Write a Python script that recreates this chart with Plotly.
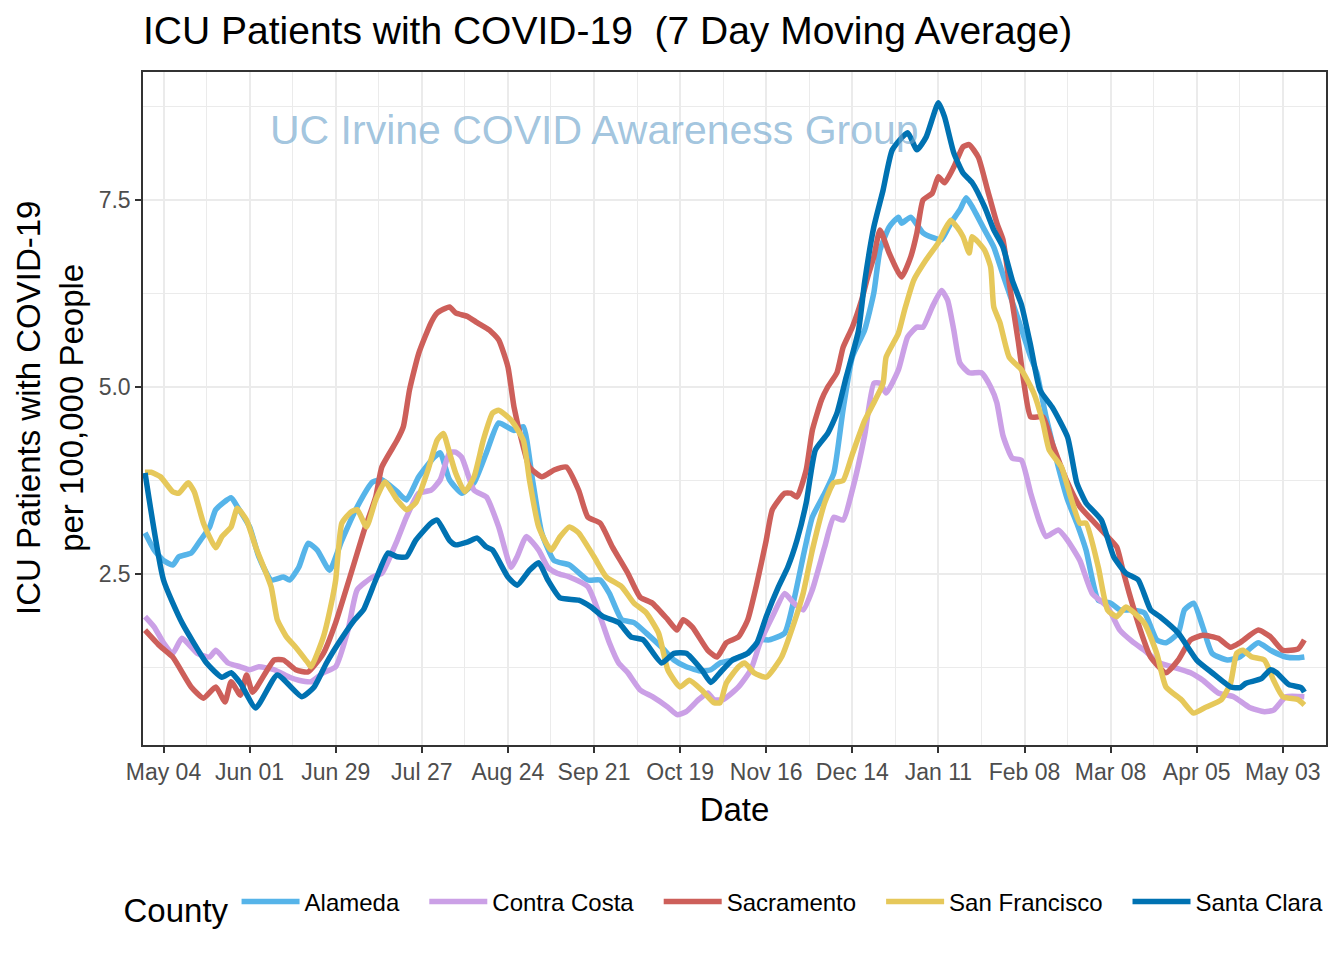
import plotly.graph_objects as go

# ---------------- data ----------------
alameda_dates = ["2020-04-28","2020-05-01","2020-05-04","2020-05-07","2020-05-09","2020-05-13","2020-05-16","2020-05-19","2020-05-21","2020-05-26","2020-05-28","2020-06-01","2020-06-04","2020-06-08","2020-06-12","2020-06-14","2020-06-17","2020-06-20","2020-06-23","2020-06-27","2020-07-01","2020-07-06","2020-07-11","2020-07-14","2020-07-19","2020-07-22","2020-07-26","2020-07-31","2020-08-02","2020-08-05","2020-08-09","2020-08-13","2020-08-17","2020-08-21","2020-08-26","2020-08-29","2020-09-01","2020-09-04","2020-09-08","2020-09-13","2020-09-19","2020-09-23","2020-09-26","2020-09-30","2020-10-04","2020-10-08","2020-10-13","2020-10-17","2020-10-21","2020-10-26","2020-10-29","2020-11-01","2020-11-05","2020-11-10","2020-11-14","2020-11-17","2020-11-22","2020-11-25","2020-11-28","2020-12-01","2020-12-05","2020-12-08","2020-12-11","2020-12-14","2020-12-18","2020-12-21","2020-12-23","2020-12-26","2020-12-29","2020-12-30","2021-01-02","2021-01-06","2021-01-09","2021-01-12","2021-01-15","2021-01-18","2021-01-20","2021-01-22","2021-01-26","2021-01-29","2021-02-01","2021-02-06","2021-02-10","2021-02-12","2021-02-15","2021-02-19","2021-02-22","2021-02-25","2021-02-28","2021-03-04","2021-03-08","2021-03-11","2021-03-15","2021-03-19","2021-03-23","2021-03-26","2021-03-30","2021-04-01","2021-04-04","2021-04-07","2021-04-10","2021-04-15","2021-04-19","2021-04-25","2021-04-29","2021-05-04","2021-05-08","2021-05-10"]
alameda_vals = [3.05,2.82,2.68,2.62,2.73,2.78,2.95,3.13,3.36,3.52,3.40,3.13,2.73,2.42,2.46,2.42,2.59,2.91,2.82,2.55,2.95,3.40,3.73,3.76,3.60,3.49,3.80,4.06,4.12,3.76,3.58,3.72,4.12,4.52,4.42,4.47,3.76,3.05,2.68,2.62,2.42,2.42,2.24,1.89,1.85,1.71,1.52,1.35,1.26,1.20,1.22,1.31,1.35,1.44,1.62,1.62,1.71,2.15,2.73,3.26,3.58,3.85,4.70,5.40,5.76,6.26,6.83,7.14,7.27,7.19,7.27,7.06,7.00,6.97,7.19,7.37,7.53,7.41,7.10,6.87,6.50,5.90,5.40,5.19,4.60,3.93,3.49,3.18,2.82,2.15,2.11,2.02,2.02,1.98,1.62,1.58,1.71,2.02,2.11,1.79,1.44,1.35,1.39,1.58,1.48,1.39,1.38,1.39]

contra_costa_dates = ["2020-04-28","2020-05-01","2020-05-04","2020-05-07","2020-05-10","2020-05-15","2020-05-19","2020-05-21","2020-05-25","2020-05-29","2020-06-01","2020-06-04","2020-06-09","2020-06-14","2020-06-17","2020-06-21","2020-06-25","2020-06-29","2020-07-03","2020-07-06","2020-07-11","2020-07-14","2020-07-19","2020-07-22","2020-07-26","2020-07-30","2020-08-02","2020-08-05","2020-08-07","2020-08-09","2020-08-13","2020-08-17","2020-08-21","2020-08-25","2020-08-27","2020-08-30","2020-09-03","2020-09-06","2020-09-09","2020-09-13","2020-09-19","2020-09-23","2020-09-26","2020-09-29","2020-10-02","2020-10-06","2020-10-10","2020-10-15","2020-10-18","2020-10-21","2020-10-25","2020-10-28","2020-10-30","2020-11-02","2020-11-07","2020-11-11","2020-11-14","2020-11-18","2020-11-22","2020-11-25","2020-11-28","2020-12-01","2020-12-05","2020-12-08","2020-12-11","2020-12-14","2020-12-18","2020-12-21","2020-12-23","2020-12-25","2020-12-29","2021-01-01","2021-01-04","2021-01-06","2021-01-09","2021-01-12","2021-01-14","2021-01-16","2021-01-18","2021-01-21","2021-01-25","2021-01-28","2021-01-30","2021-02-01","2021-02-04","2021-02-07","2021-02-10","2021-02-13","2021-02-15","2021-02-19","2021-02-22","2021-02-26","2021-03-02","2021-03-07","2021-03-11","2021-03-15","2021-03-19","2021-03-24","2021-03-28","2021-04-03","2021-04-07","2021-04-12","2021-04-17","2021-04-22","2021-04-27","2021-04-30","2021-05-04","2021-05-10"]
contra_costa_vals = [1.93,1.79,1.58,1.44,1.64,1.44,1.39,1.48,1.31,1.26,1.22,1.26,1.22,1.12,1.08,1.06,1.18,1.26,1.75,2.29,2.46,2.51,2.95,3.26,3.58,3.62,3.76,4.12,4.13,4.06,3.62,3.53,3.13,2.59,2.73,3.00,2.82,2.59,2.51,2.46,2.33,1.93,1.58,1.31,1.18,0.95,0.86,0.72,0.62,0.66,0.82,0.91,0.82,0.82,0.99,1.22,1.58,1.93,2.24,2.11,2.02,2.29,2.86,3.26,3.22,3.62,4.35,5.05,5.05,4.92,5.23,5.67,5.80,5.80,6.07,6.29,6.16,5.76,5.32,5.19,5.19,5.00,4.79,4.35,4.05,4.02,3.58,3.18,3.00,3.09,2.95,2.68,2.24,2.06,1.75,1.60,1.48,1.31,1.26,1.18,1.08,0.91,0.86,0.72,0.66,0.68,0.86,0.86]

sacramento_dates = ["2020-04-28","2020-05-03","2020-05-07","2020-05-13","2020-05-17","2020-05-21","2020-05-24","2020-05-26","2020-05-29","2020-05-31","2020-06-02","2020-06-09","2020-06-12","2020-06-16","2020-06-20","2020-06-25","2020-06-29","2020-07-04","2020-07-08","2020-07-12","2020-07-14","2020-07-19","2020-07-21","2020-07-23","2020-07-26","2020-07-30","2020-08-01","2020-08-05","2020-08-07","2020-08-11","2020-08-14","2020-08-18","2020-08-21","2020-08-24","2020-08-26","2020-08-29","2020-08-31","2020-09-04","2020-09-08","2020-09-12","2020-09-16","2020-09-19","2020-09-23","2020-09-27","2020-10-02","2020-10-06","2020-10-10","2020-10-15","2020-10-18","2020-10-20","2020-10-23","2020-10-28","2020-10-31","2020-11-03","2020-11-07","2020-11-10","2020-11-13","2020-11-16","2020-11-18","2020-11-22","2020-11-24","2020-11-26","2020-11-29","2020-12-01","2020-12-04","2020-12-06","2020-12-09","2020-12-11","2020-12-14","2020-12-17","2020-12-19","2020-12-21","2020-12-23","2020-12-26","2020-12-30","2021-01-02","2021-01-04","2021-01-06","2021-01-09","2021-01-11","2021-01-13","2021-01-16","2021-01-19","2021-01-21","2021-01-24","2021-01-27","2021-01-30","2021-02-01","2021-02-03","2021-02-06","2021-02-08","2021-02-10","2021-02-14","2021-02-17","2021-02-22","2021-02-26","2021-03-02","2021-03-07","2021-03-10","2021-03-12","2021-03-14","2021-03-18","2021-03-21","2021-03-26","2021-03-30","2021-04-03","2021-04-07","2021-04-12","2021-04-16","2021-04-19","2021-04-25","2021-04-29","2021-05-03","2021-05-08","2021-05-10"]
sacramento_vals = [1.75,1.53,1.39,0.99,0.84,0.99,0.79,1.06,0.88,1.15,0.92,1.35,1.35,1.22,1.19,1.44,1.85,2.51,3.05,3.53,3.93,4.29,4.47,4.96,5.45,5.86,5.99,6.07,5.99,5.94,5.86,5.76,5.63,5.27,4.73,4.20,3.93,3.80,3.89,3.93,3.62,3.26,3.18,2.86,2.51,2.19,2.11,1.89,1.75,1.89,1.79,1.48,1.39,1.58,1.66,1.89,2.38,2.95,3.36,3.58,3.58,3.53,3.89,4.42,4.83,5.00,5.19,5.53,5.80,6.16,6.47,6.74,7.10,6.79,6.47,6.74,7.06,7.50,7.59,7.81,7.73,7.94,8.21,8.24,8.07,7.63,7.19,6.97,6.40,5.60,5.00,4.60,4.60,4.25,3.72,3.40,3.22,3.00,2.86,2.55,2.25,1.71,1.39,1.18,1.35,1.62,1.68,1.64,1.52,1.58,1.75,1.66,1.48,1.50,1.62]

san_francisco_dates = ["2020-04-28","2020-04-30","2020-05-03","2020-05-07","2020-05-09","2020-05-12","2020-05-14","2020-05-17","2020-05-21","2020-05-23","2020-05-26","2020-05-28","2020-05-31","2020-06-03","2020-06-08","2020-06-10","2020-06-13","2020-06-16","2020-06-20","2020-06-21","2020-06-25","2020-06-28","2020-06-29","2020-07-01","2020-07-04","2020-07-06","2020-07-09","2020-07-12","2020-07-15","2020-07-19","2020-07-22","2020-07-25","2020-07-29","2020-08-01","2020-08-03","2020-08-05","2020-08-07","2020-08-10","2020-08-13","2020-08-16","2020-08-19","2020-08-21","2020-08-25","2020-08-29","2020-08-31","2020-09-03","2020-09-07","2020-09-10","2020-09-13","2020-09-16","2020-09-21","2020-09-25","2020-09-30","2020-10-04","2020-10-08","2020-10-12","2020-10-15","2020-10-19","2020-10-22","2020-10-26","2020-10-30","2020-11-01","2020-11-03","2020-11-07","2020-11-09","2020-11-12","2020-11-16","2020-11-21","2020-11-25","2020-11-28","2020-12-01","2020-12-05","2020-12-08","2020-12-11","2020-12-14","2020-12-18","2020-12-21","2020-12-24","2020-12-25","2020-12-29","2020-12-31","2021-01-03","2021-01-07","2021-01-11","2021-01-13","2021-01-15","2021-01-17","2021-01-19","2021-01-21","2021-01-22","2021-01-26","2021-01-28","2021-01-29","2021-01-31","2021-02-03","2021-02-07","2021-02-11","2021-02-14","2021-02-16","2021-02-20","2021-02-23","2021-02-26","2021-02-28","2021-03-04","2021-03-07","2021-03-10","2021-03-13","2021-03-19","2021-03-23","2021-03-26","2021-03-31","2021-04-04","2021-04-08","2021-04-13","2021-04-16","2021-04-18","2021-04-20","2021-04-23","2021-04-27","2021-04-30","2021-05-03","2021-05-08","2021-05-10"]
san_francisco_vals = [3.86,3.86,3.80,3.60,3.58,3.72,3.60,3.18,2.85,3.00,3.13,3.38,3.22,2.86,2.33,1.89,1.66,1.52,1.31,1.26,1.66,2.19,2.42,3.18,3.33,3.36,3.13,3.49,3.73,3.49,3.36,3.45,3.89,4.29,4.38,4.12,3.85,3.60,3.80,4.29,4.65,4.69,4.56,4.29,3.76,3.13,2.82,3.00,3.13,3.05,2.73,2.46,2.33,2.11,1.98,1.71,1.22,0.99,1.08,0.95,0.78,0.78,1.04,1.26,1.31,1.18,1.12,1.39,1.84,2.24,2.82,3.45,3.72,3.75,4.10,4.55,4.79,5.05,5.40,5.72,6.03,6.43,6.70,6.93,7.10,7.23,7.14,7.01,6.79,7.01,6.83,6.60,6.07,5.86,5.40,5.23,4.92,4.52,4.16,3.93,3.53,3.18,3.18,2.59,2.02,1.93,2.06,1.84,1.44,0.99,0.82,0.64,0.72,0.82,1.04,1.44,1.48,1.39,1.35,1.08,0.86,0.82,0.75]

santa_clara_dates = ["2020-04-28","2020-05-04","2020-05-10","2020-05-18","2020-05-23","2020-05-26","2020-05-29","2020-06-03","2020-06-10","2020-06-18","2020-06-22","2020-06-26","2020-06-30","2020-07-05","2020-07-08","2020-07-12","2020-07-16","2020-07-19","2020-07-22","2020-07-25","2020-07-30","2020-08-01","2020-08-05","2020-08-07","2020-08-11","2020-08-14","2020-08-17","2020-08-19","2020-08-24","2020-08-27","2020-08-31","2020-09-03","2020-09-06","2020-09-10","2020-09-16","2020-09-20","2020-09-24","2020-09-29","2020-10-03","2020-10-07","2020-10-13","2020-10-17","2020-10-21","2020-10-26","2020-10-29","2020-11-01","2020-11-05","2020-11-10","2020-11-13","2020-11-16","2020-11-20","2020-11-23","2020-11-26","2020-11-29","2020-12-02","2020-12-06","2020-12-09","2020-12-12","2020-12-16","2020-12-18","2020-12-21","2020-12-24","2020-12-27","2021-01-01","2021-01-04","2021-01-07","2021-01-11","2021-01-13","2021-01-16","2021-01-19","2021-01-22","2021-01-26","2021-01-29","2021-02-01","2021-02-04","2021-02-07","2021-02-10","2021-02-13","2021-02-17","2021-02-22","2021-02-25","2021-02-28","2021-03-05","2021-03-09","2021-03-13","2021-03-17","2021-03-21","2021-03-24","2021-03-30","2021-04-05","2021-04-10","2021-04-16","2021-04-19","2021-04-21","2021-04-26","2021-04-29","2021-05-01","2021-05-05","2021-05-09","2021-05-10"]
santa_clara_vals = [3.85,2.42,1.85,1.31,1.12,1.18,1.04,0.71,1.15,0.86,0.99,1.31,1.58,1.88,2.02,2.42,2.78,2.73,2.73,2.95,3.18,3.22,2.95,2.89,2.93,2.98,2.86,2.82,2.46,2.35,2.55,2.65,2.42,2.18,2.15,2.06,1.93,1.85,1.66,1.62,1.31,1.44,1.44,1.22,1.05,1.18,1.35,1.44,1.58,1.93,2.33,2.59,2.95,3.45,4.16,4.38,4.65,5.13,5.75,6.40,7.14,7.63,8.17,8.40,8.17,8.34,8.80,8.61,8.13,7.86,7.73,7.41,7.10,6.87,6.43,6.10,5.55,4.96,4.73,4.33,3.72,3.45,3.22,2.73,2.51,2.42,2.02,1.93,1.71,1.35,1.18,0.99,0.98,1.04,1.10,1.22,1.18,1.02,0.98,0.92]

counties = ["Alameda", "Contra Costa", "Sacramento", "San Francisco", "Santa Clara"]
series_dates = [alameda_dates, contra_costa_dates, sacramento_dates, san_francisco_dates, santa_clara_dates]
series_vals = [alameda_vals, contra_costa_vals, sacramento_vals, san_francisco_vals, santa_clara_vals]
colors = ["#56B4E9", "#CBA0E6", "#CD5F5A", "#E6C85A", "#0072B2"]

x_tick_dates = ["2020-05-04","2020-06-01","2020-06-29","2020-07-27","2020-08-24","2020-09-21","2020-10-19","2020-11-16","2020-12-14","2021-01-11","2021-02-08","2021-03-08","2021-04-05","2021-05-03"]
x_minor_dates = ["2020-05-18","2020-06-15","2020-07-13","2020-08-10","2020-09-07","2020-10-05","2020-11-02","2020-11-30","2020-12-28","2021-01-25","2021-02-22","2021-03-22","2021-04-19"]
y_tick_vals = [2.5, 5.0, 7.5]
y_tick_text = ["2.5", "5.0", "7.5"]
y_minor_vals = [1.25, 3.75, 6.25, 8.75]

FONT = "Liberation Sans, Arial, Helvetica, sans-serif"
PAD = "\u00a0\u00a0\u00a0"   # extra room after each legend label

fig = go.Figure()
for name, d, v, c in zip(counties, series_dates, series_vals, colors):
    fig.add_trace(go.Scatter(x=d, y=v, mode="lines", name=name + PAD,
                             line=dict(color=c, width=5.5, shape="spline", smoothing=0.5)))

# page has an 8px body margin, so the figure is 8px smaller and margins shifted
fig.update_layout(
    width=1336, height=952,
    paper_bgcolor="white", plot_bgcolor="white",
    margin=dict(l=135, r=18, t=64, b=215, autoexpand=False),
    font=dict(family=FONT, color="black"),
    title=dict(text="ICU Patients with COVID-19\u00a0\u00a0(7 Day Moving Average)",
               xref="paper", x=0.0, xanchor="left", y=1 - 22 / 952, yanchor="middle",
               font=dict(size=39, color="black")),
    showlegend=True,
    legend=dict(orientation="h", x=0.5, xanchor="center", y=-0.239, yanchor="middle",
                title=dict(text="County", font=dict(size=33, color="black"), side="left"),
                font=dict(size=24, color="black"), itemwidth=58,
                bgcolor="rgba(0,0,0,0)"),
)

fig.update_xaxes(
    type="date",
    range=["2020-04-27 08:00", "2021-05-17 01:00"],
    tickvals=x_tick_dates, tickformat="%b %d",
    tickfont=dict(size=23, color="#4D4D4D"),
    ticks="outside", ticklen=6, tickwidth=1.5, tickcolor="#333333",
    showgrid=True, gridcolor="#EBEBEB", gridwidth=2,
    minor=dict(tickvals=x_minor_dates, showgrid=True, gridcolor="#EBEBEB", gridwidth=1, ticks=""),
    showline=True, linecolor="#333333", linewidth=1.5, mirror=True,
    zeroline=False, automargin=False,
    title=dict(text="Date", font=dict(size=33, color="black"), standoff=14),
)
fig.update_yaxes(
    range=[0.214, 9.211],
    tickvals=y_tick_vals, ticktext=y_tick_text,
    tickfont=dict(size=23, color="#4D4D4D"),
    ticks="outside", ticklen=6, tickwidth=1.5, tickcolor="#333333",
    showgrid=True, gridcolor="#EBEBEB", gridwidth=2,
    minor=dict(tickvals=y_minor_vals, showgrid=True, gridcolor="#EBEBEB", gridwidth=1, ticks=""),
    showline=True, linecolor="#333333", linewidth=1.5, mirror=True,
    zeroline=False, automargin=False,
)

# y-axis title (two lines, rotated)
fig.add_annotation(text="ICU Patients with COVID-19<br>per 100,000 People",
                   xref="paper", yref="paper", x=-0.079, y=0.5,
                   xanchor="center", yanchor="middle", textangle=-90,
                   showarrow=False, font=dict(size=33, color="black"))

# watermark
fig.add_annotation(text="UC Irvine COVID Awareness Group",
                   xref="paper", yref="paper", x=0.382, y=0.914,
                   xanchor="center", yanchor="middle", showarrow=False,
                   font=dict(size=41, color="rgba(110,165,205,0.65)"))

fig.write_html("out.html")
